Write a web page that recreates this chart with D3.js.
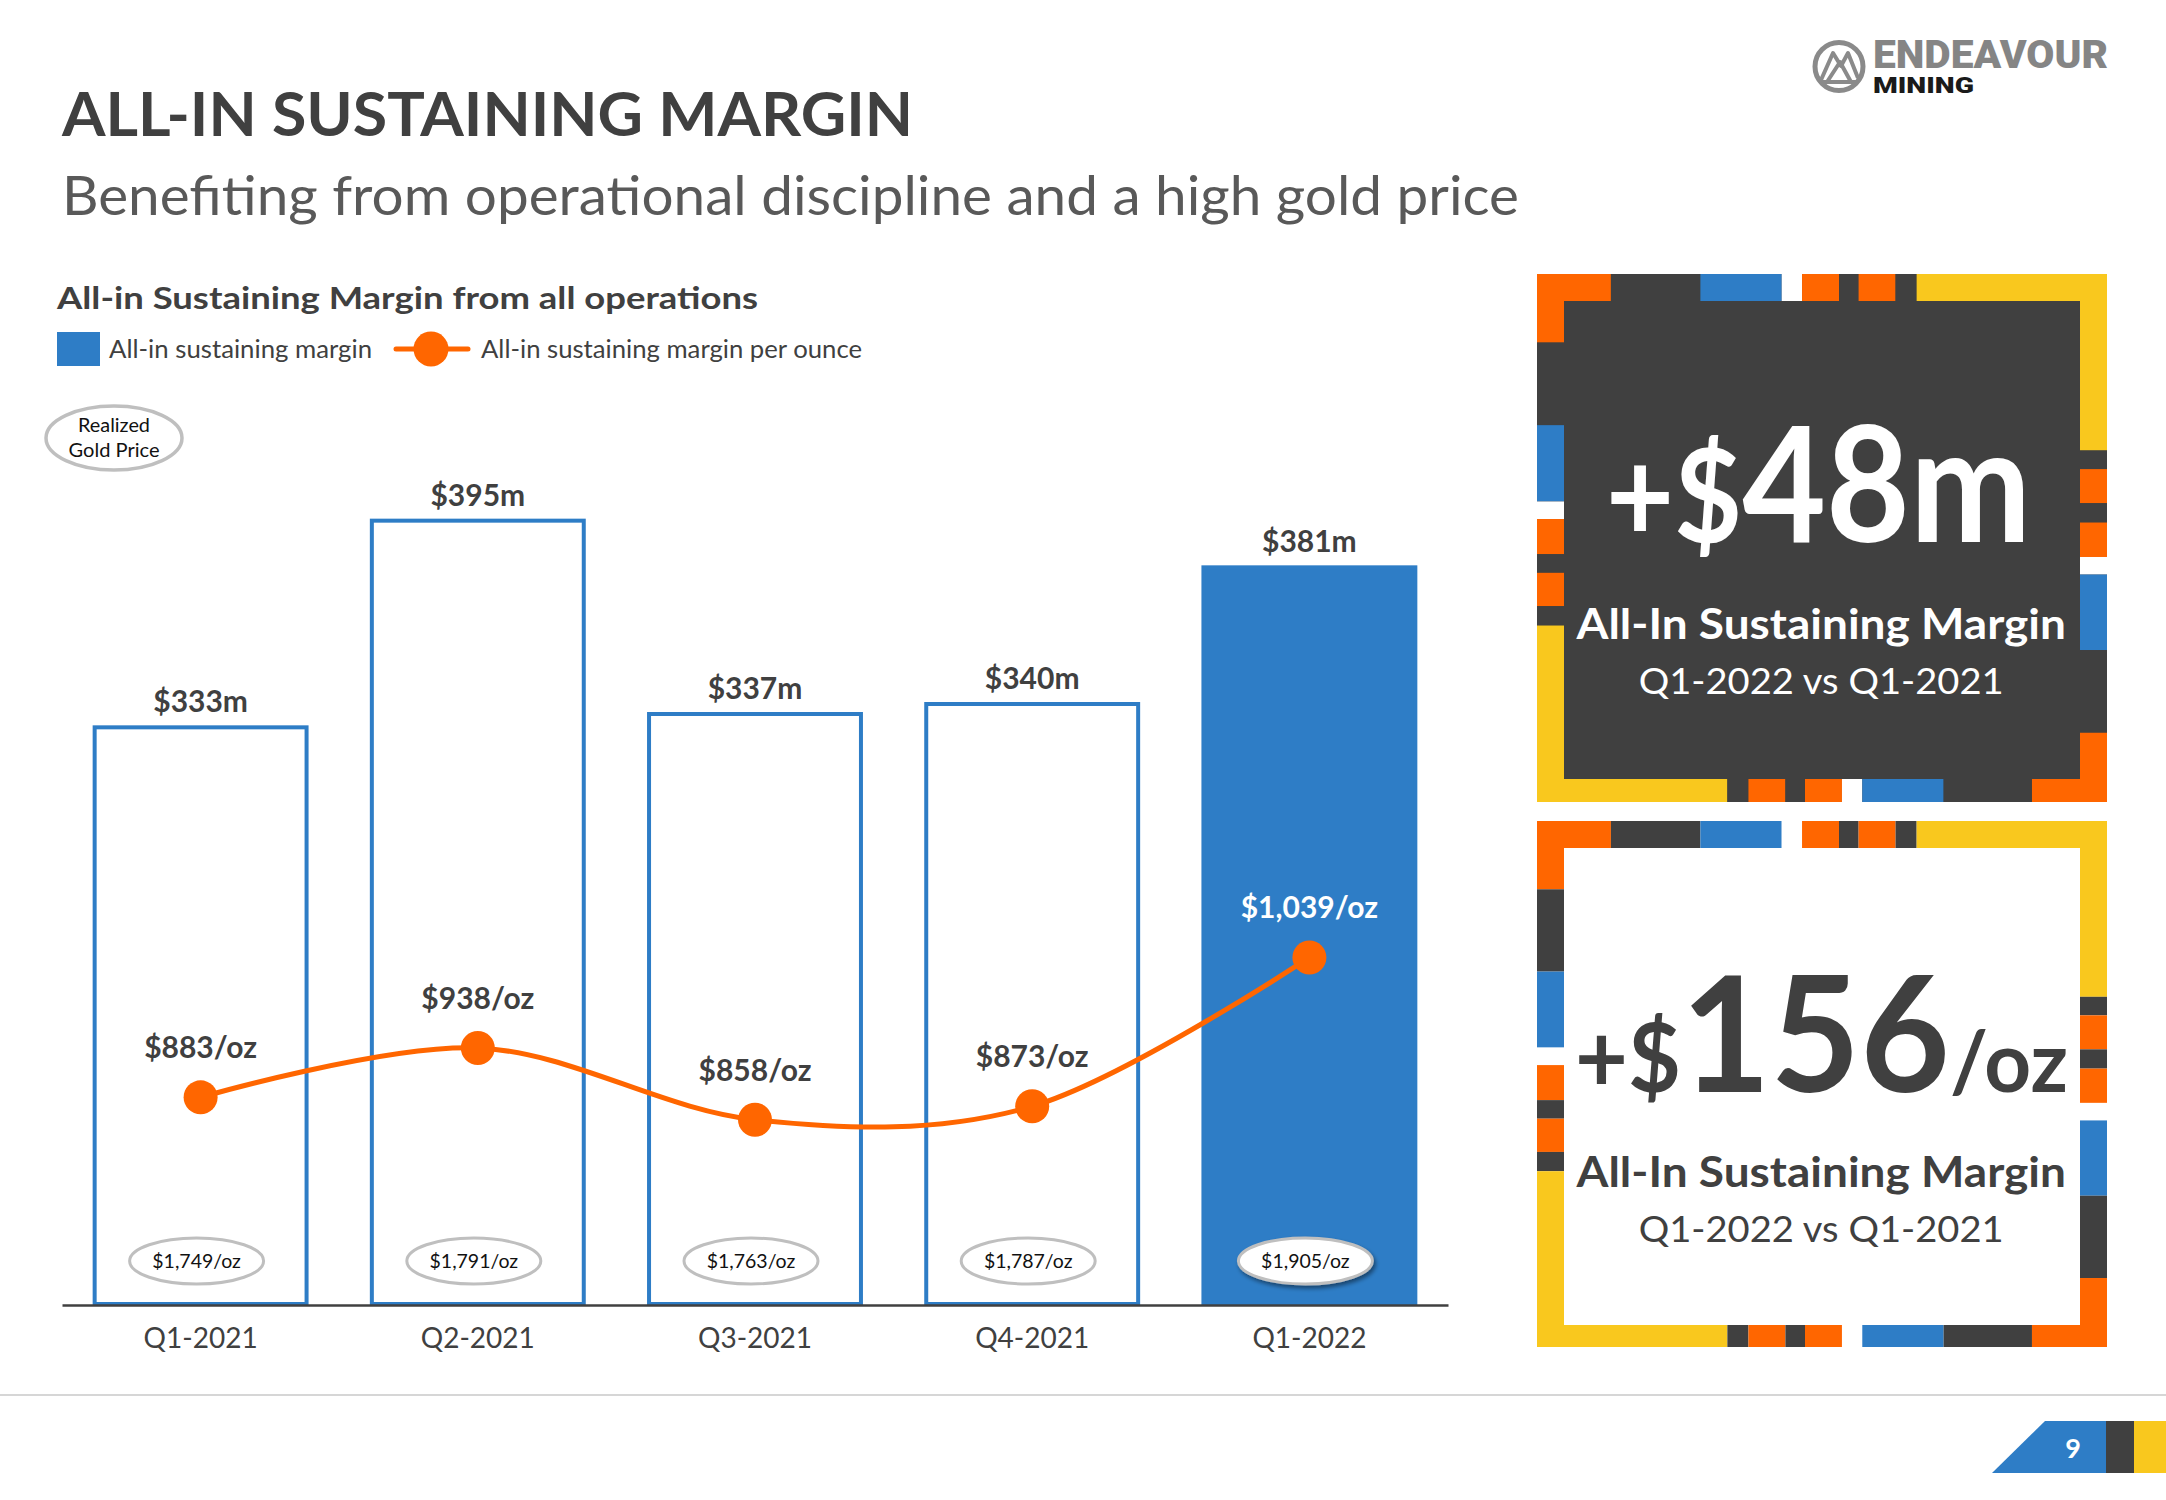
<!DOCTYPE html>
<html><head><meta charset="utf-8">
<script src="https://cdn.jsdelivr.net/npm/d3@7"></script>
<style>
html,body{margin:0;padding:0;background:#fff;}
svg{display:block;}
text{font-family:Lato,"Open Sans","Noto Sans",sans-serif;}
</style>
</head><body>
<svg id="c" width="2166" height="1500"></svg>
<script>
// ---------- data ----------
const categories = ["Q1-2021","Q2-2021","Q3-2021","Q4-2021","Q1-2022"];
const marginMillions = [333,395,337,340,381];
const marginPerOunce = [883,938,858,873,1039];
const realizedGoldPrice = [1749,1791,1763,1787,1905];
const highlightCategory = "Q1-2022";
const legendLabels = ["All-in sustaining margin","All-in sustaining margin per ounce"];
const kpiValues = [{pre:"+$", main:"48", post:"m", label:"All-In Sustaining Margin", period:"Q1-2022 vs Q1-2021"},
                   {pre:"+$", main:"156", post:"/oz", label:"All-In Sustaining Margin", period:"Q1-2022 vs Q1-2021"}];
// decorative frame pattern (units along a side: 1542 horizontally, 1502 vertically)
const frameTop    = [[0,200,"o"],[200,442,"d"],[442,662,"b"],[662,717,"w"],[717,817,"o"],[817,870,"d"],[870,970,"o"],[970,1027,"d"],[1027,1542,"y"]];
const frameRight  = [[0,502,"y"],[502,555,"d"],[555,652,"o"],[652,707,"d"],[707,805,"o"],[805,855,"w"],[855,1070,"b"],[1070,1305,"d"],[1305,1502,"o"]];
const frameBottom = [[0,515,"y"],[515,572,"d"],[572,672,"o"],[672,725,"d"],[725,825,"o"],[825,880,"w"],[880,1100,"b"],[1100,1339,"d"],[1339,1542,"o"]];
const frameLeft   = [[0,195,"o"],[195,430,"d"],[430,647,"b"],[647,697,"w"],[697,797,"o"],[797,850,"d"],[850,945,"o"],[945,1000,"d"],[1000,1502,"y"]];

// ---------- styles ----------
const BLUE="#2E7DC6", ORANGE="#FF6600", YELLOW="#F9C81E", DARK="#404040", GREY_TXT="#595959";
const colorMap = {o:ORANGE, d:DARK, b:BLUE, w:"#FFFFFF", y:YELLOW};
const fmtM = v => "$" + v + "m";
const fmtOz = v => d3.format("$,")(v) + "/oz";

const svg = d3.select("#c");
const defs = svg.append("defs");
const f = defs.append("filter").attr("id","shadow").attr("x","-20%").attr("y","-30%").attr("width","150%").attr("height","170%");
f.append("feDropShadow").attr("dx",2).attr("dy",3).attr("stdDeviation",2).attr("flood-color","#000").attr("flood-opacity",0.45);

function fitText(sel, w){ return sel.attr("textLength", w).attr("lengthAdjust","spacingAndGlyphs"); }

// ---------- titles ----------
fitText(svg.append("text").attr("x",62).attr("y",136).text("ALL-IN SUSTAINING MARGIN")
  .style("font-weight",700).style("font-size","61px").attr("fill",DARK), 851);
fitText(svg.append("text").attr("x",62).attr("y",215).text("Benefiting from operational discipline and a high gold price")
  .style("font-size","54px").attr("fill",GREY_TXT), 1457);
fitText(svg.append("text").attr("x",57).attr("y",309).text("All-in Sustaining Margin from all operations")
  .style("font-weight",700).style("font-size","31px").attr("fill",DARK), 701);

// ---------- legend ----------
svg.append("rect").attr("x",57).attr("y",332).attr("width",43).attr("height",34).attr("fill",BLUE);
fitText(svg.append("text").attr("x",109).attr("y",358).text(legendLabels[0]).style("font-size","25px").attr("fill",DARK), 263);
svg.append("line").attr("x1",396).attr("x2",468).attr("y1",349).attr("y2",349).attr("stroke",ORANGE).attr("stroke-width",5).attr("stroke-linecap","round");
svg.append("circle").attr("cx",431).attr("cy",349).attr("r",17.5).attr("fill",ORANGE);
fitText(svg.append("text").attr("x",481).attr("y",358).text(legendLabels[1]).style("font-size","25px").attr("fill",DARK), 381);

// realized gold price key
svg.append("ellipse").attr("cx",114).attr("cy",438).attr("rx",68).attr("ry",32).attr("fill","#fff").attr("stroke","#BFBFBF").attr("stroke-width",3.5);
fitText(svg.append("text").attr("x",114).attr("y",432).attr("text-anchor","middle").text("Realized").style("font-size","18.5px").attr("fill","#111"), 72);
fitText(svg.append("text").attr("x",114).attr("y",457).attr("text-anchor","middle").text("Gold Price").style("font-size","18.5px").attr("fill","#111"), 91);

// ---------- scales ----------
const x = d3.scaleBand().domain(categories).range([62,1448]).paddingInner(0.2355).paddingOuter(0.1178);
const y = d3.scaleLinear().domain([160,400]).range([1304,504]);
const y2 = d3.scaleLinear().domain([650,1000]).range([1306.3,992.4]);
const cx = c => x(c) + x.bandwidth()/2;
const rows = categories.map((c,i)=>({c, m:marginMillions[i], oz:marginPerOunce[i], gp:realizedGoldPrice[i]}));

// bars
const g = svg.append("g");
g.selectAll("rect.bar").data(rows).join("rect").attr("class","bar")
  .attr("x", d=>x(d.c)).attr("width", x.bandwidth())
  .attr("y", d=>y(d.m)).attr("height", d=>y.range()[0]-y(d.m))
  .attr("fill", d=> d.c===highlightCategory ? BLUE : "#fff")
  .attr("stroke", BLUE).attr("stroke-width", 4);

g.selectAll("text.barlab").data(rows).join("text").attr("class","barlab")
  .attr("x", d=>cx(d.c)).attr("y", d=>y(d.m)-15).attr("text-anchor","middle")
  .style("font-weight",700).style("font-size","30px").attr("fill",DARK).text(d=>fmtM(d.m));

// realized gold price ellipses
g.selectAll("ellipse.gp").data(rows).join("ellipse").attr("class","gp")
  .attr("cx", d=>cx(d.c)-4).attr("cy",1261).attr("rx",67).attr("ry",23)
  .attr("fill","#fff").attr("stroke","#BFBFBF").attr("stroke-width",3)
  .attr("filter", d=> d.c===highlightCategory ? "url(#shadow)" : null);
g.selectAll("text.gp").data(rows).join("text").attr("class","gp")
  .attr("x", d=>cx(d.c)-4).attr("y",1268).attr("text-anchor","middle")
  .style("font-size","19.5px").attr("fill","#111").text(d=>fmtOz(d.gp));

// axis
const ax = svg.append("g").attr("transform","translate(0,1305)")
  .call(d3.axisBottom(x).tickSize(0).tickPadding(23));
ax.attr("font-family","Lato, sans-serif");
ax.select(".domain").attr("stroke",DARK).attr("stroke-width",2.5);
ax.selectAll("text").attr("font-family","Lato, sans-serif").style("font-size","28px").attr("fill",DARK);

// line
const line = d3.line().x(d=>cx(d.c)).y(d=>y2(d.oz)).curve(d3.curveCardinal.tension(0));
svg.append("path").datum(rows).attr("d",line).attr("fill","none").attr("stroke",ORANGE)
  .attr("stroke-width",5).attr("stroke-linejoin","round").attr("stroke-linecap","round");
svg.selectAll("circle.pt").data(rows).join("circle").attr("class","pt")
  .attr("cx", d=>cx(d.c)).attr("cy", d=>y2(d.oz)).attr("r",17).attr("fill",ORANGE);
svg.selectAll("text.ozlab").data(rows).join("text").attr("class","ozlab")
  .attr("x", d=>cx(d.c)).attr("y", d=>y2(d.oz)-39).attr("text-anchor","middle")
  .style("font-weight",700).style("font-size","30px")
  .attr("fill", d=> d.c===highlightCategory ? "#fff" : DARK).text(d=>fmtOz(d.oz));

// ---------- KPI panels ----------
const panels = [
  {x:1537, y:274, w:570, h:528, bottom:23, bg:DARK, fg:"#fff", kpi:kpiValues[0],
   bigX:1606, bigY:542, bigW:425, sizes:[130,160,160], labY:638.5, perY:693.7},
  {x:1537, y:821, w:570, h:526, bottom:22, bg:"#fff", fg:DARK, kpi:kpiValues[1],
   bigX:1575, bigY:1092, bigW:493, sizes:[95,161,85], labY:1187, perY:1242}
];
panels.forEach(p=>{
  const pg = svg.append("g");
  pg.append("rect").attr("x",p.x).attr("y",p.y).attr("width",p.w).attr("height",p.h).attr("fill",p.bg);
  const t = 27;
  frameTop.forEach(s=>pg.append("rect").attr("x",p.x+s[0]/1542*p.w).attr("y",p.y)
    .attr("width",(s[1]-s[0])/1542*p.w).attr("height",t).attr("fill",colorMap[s[2]]));
  frameBottom.forEach(s=>pg.append("rect").attr("x",p.x+s[0]/1542*p.w).attr("y",p.y+p.h-p.bottom)
    .attr("width",(s[1]-s[0])/1542*p.w).attr("height",p.bottom).attr("fill",colorMap[s[2]]));
  frameLeft.forEach(s=>pg.append("rect").attr("x",p.x).attr("y",p.y+s[0]/1502*p.h)
    .attr("width",t).attr("height",(s[1]-s[0])/1502*p.h).attr("fill",colorMap[s[2]]));
  frameRight.forEach(s=>pg.append("rect").attr("x",p.x+p.w-t).attr("y",p.y+s[0]/1502*p.h)
    .attr("width",t).attr("height",(s[1]-s[0])/1502*p.h).attr("fill",colorMap[s[2]]));
  // big figure: natural glyph runs, squeezed horizontally with a transform
  const bgG = pg.append("g").attr("transform",`translate(${p.bigX},${p.bigY})`);
  const big = bgG.append("text").attr("x",0).attr("y",0).attr("fill",p.fg).style("font-weight",700);
  big.append("tspan").style("font-size",p.sizes[0]+"px").text(p.kpi.pre);
  big.append("tspan").style("font-size",p.sizes[1]+"px").text(p.kpi.main);
  big.append("tspan").style("font-size",p.sizes[2]+"px").text(p.kpi.post);
  const nat = big.node().getComputedTextLength() || p.bigW;
  bgG.attr("transform",`translate(${p.bigX},${p.bigY}) scale(${p.bigW/nat},1)`);
  fitText(pg.append("text").attr("x",1576.5).attr("y",p.labY).attr("fill",p.fg).style("font-weight",700)
    .style("font-size","42px").text(p.kpi.label), 489.5);
  fitText(pg.append("text").attr("x",1638.7).attr("y",p.perY).attr("fill",p.fg)
    .style("font-size","37.5px").text(p.kpi.period), 365);
});

// ---------- footer ----------
svg.append("line").attr("x1",0).attr("x2",2166).attr("y1",1395).attr("y2",1395).attr("stroke","#D6D6D6").attr("stroke-width",2);
svg.append("path").attr("d","M1992,1473L2045,1421L2106,1421L2106,1473Z").attr("fill",BLUE);
svg.append("rect").attr("x",2106).attr("y",1421).attr("width",28).attr("height",52).attr("fill",DARK);
svg.append("rect").attr("x",2134).attr("y",1421).attr("width",32).attr("height",52).attr("fill",YELLOW);
svg.append("text").attr("x",2073).attr("y",1458).attr("text-anchor","middle").attr("fill","#fff")
  .style("font-weight",700).style("font-size","27px").text("9");

// ---------- logo ----------
const lg = svg.append("g");
lg.append("circle").attr("cx",1839).attr("cy",66.5).attr("r",24).attr("fill","none").attr("stroke","#8A8A8A").attr("stroke-width",5);
lg.append("path").attr("d","M1821,80L1833,53L1841,66L1848,53L1858,78M1827,82L1840,62L1851,82M1820,82L1858,82")
  .attr("fill","none").attr("stroke","#8A8A8A").attr("stroke-width",4).attr("stroke-linejoin","round");
fitText(lg.append("text").attr("x",1873).attr("y",68).attr("fill","#858585").style("font-family","Roboto, sans-serif")
  .style("font-weight",900).style("font-size","38px").text("ENDEAVOUR"), 235);
fitText(lg.append("text").attr("x",1873).attr("y",93).attr("fill","#1A1A1A").style("font-family","Roboto, sans-serif")
  .style("font-weight",900).style("font-size","22px").text("MINING"), 101);
</script>
</body></html>
